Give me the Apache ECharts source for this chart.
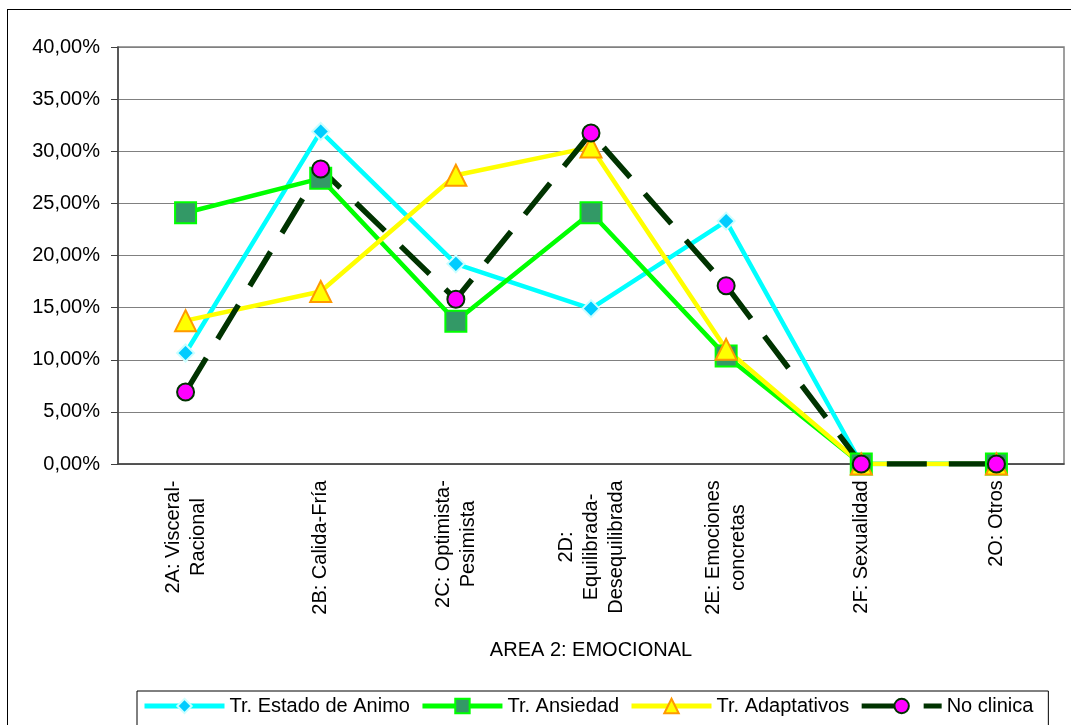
<!DOCTYPE html>
<html lang="es">
  <head>
    <meta charset="UTF-8" />
    <title>Area 2: Emocional</title>
    <script src="https://cdn.jsdelivr.net/npm/echarts@6.0.0/dist/echarts.min.js"></script>
    <style>
      body { margin: 0; background: #fff; }
      #frame { position: absolute; left: 7px; top: 9px; width: 1200px; height: 900px; border: 1.5px solid #000; }
      #main { position: absolute; left: 0; top: 0; width: 1071px; height: 725px; }
    </style>
  </head>

  <body>
    <div id="frame"></div>
    <div id="main"></div>

    <script type="text/javascript">
      // data (percent)
      const categories = [
        "2A: Visceral-\nRacional",
        "2B: Calida-Fría",
        "2C: Optimista-\nPesimista",
        "2D:\nEquilibrada-\nDesequilibrada",
        "2E: Emociones\nconcretas",
        "2F: Sexualidad",
        "2O: Otros",
      ];
      const groupLabel = ["AREA 2: EMOCIONAL"];
      const estadoAnimo = [10.65, 31.9, 19.2, 14.9, 23.3, 0, 0];
      const ansiedad = [24.1, 27.4, 13.7, 24.1, 10.35, 0, 0];
      const adaptativos = [13.75, 16.55, 27.7, 30.4, 11.0, 0, 0];
      const noClinica = [6.9, 28.3, 15.8, 31.75, 17.1, 0, 0];
      const yTicks = { min: 0, max: 40, step: 5 };

      const FONT = "Liberation Sans, Arial, sans-serif";

      // measure each label so its lines are centred on each other
      const ctx = document.createElement("canvas").getContext("2d");
      ctx.font = "20px " + FONT;
      const rich = {};
      categories.forEach((c, i) => {
        const w = Math.max(...c.split("\n").map((l) => ctx.measureText(l).width));
        rich["r" + i] = { width: Math.ceil(w), align: "center", fontSize: 20, lineHeight: 25, fontFamily: FONT, color: "#000" };
      });

      let myChart = echarts.init(document.getElementById("main"));

      let options = {
        animation: false,
        textStyle: { fontFamily: FONT },
        grid: {
          left: 118,
          right: 7,
          top: 47,
          bottom: 261,
          show: true,
          borderColor: "#808080",
          borderWidth: 1.5,
        },
        legend: {
          left: 137,
          top: 691,
          padding: [5, 15, 14, 5],
          itemGap: 10,
          itemWidth: 80,
          itemHeight: 18,
          borderColor: "#000",
          borderWidth: 1,
          lineStyle: { width: 5 },
          textStyle: { fontSize: 20, color: "#000", fontFamily: FONT },
          data: ["Tr. Estado de Animo", "Tr. Ansiedad", "Tr. Adaptativos", "No clinica"],
        },
        xAxis: [
          {
            type: "category",
            position: "bottom",
            data: categories,
            axisLine: { lineStyle: { color: "#404040", width: 1.5 } },
            axisTick: { interval: 0, length: 156, lineStyle: { color: "#404040", width: 1.2 } },
            axisLabel: {
              interval: 0,
              rotate: 90,
              margin: 16,
              formatter: (v, i) =>
                v
                  .split("\n")
                  .map((l) => "{r" + i + "|" + l + "}")
                  .join("\n"),
              rich: rich,
            },
          },
          {
            type: "category",
            position: "bottom",
            data: groupLabel,
            axisLine: { show: false, onZero: false },
            axisTick: { length: 199, lineStyle: { color: "#404040", width: 1.2 } },
            axisLabel: { margin: 176, fontSize: 20, color: "#000", fontFamily: FONT },
          },
        ],
        yAxis: {
          type: "value",
          min: yTicks.min,
          max: yTicks.max,
          interval: yTicks.step,
          axisLine: { show: true, lineStyle: { color: "#404040", width: 1.5 } },
          axisTick: { show: true, length: 7, lineStyle: { color: "#404040" } },
          axisLabel: {
            margin: 18,
            fontSize: 20,
            color: "#000",
            fontFamily: FONT,
            formatter: (v) => v.toFixed(2).replace(".", ",") + "%",
          },
          splitLine: { lineStyle: { color: "#808080", width: 1.2 } },
        },
        series: [
          {
            name: "Tr. Estado de Animo",
            type: "line",
            data: estadoAnimo,
            symbol: "diamond",
            symbolSize: 17,
            lineStyle: { color: "#00FFFF", width: 4.5 },
            itemStyle: { color: "#00CCFF", borderColor: "#CCFFFF", borderWidth: 2 },
          },
          {
            name: "Tr. Ansiedad",
            type: "line",
            data: ansiedad,
            symbol: "rect",
            symbolSize: 21,
            lineStyle: { color: "#00FF00", width: 4.5 },
            itemStyle: { color: "#339966", borderColor: "#00FF00", borderWidth: 2 },
          },
          {
            name: "Tr. Adaptativos",
            type: "line",
            data: adaptativos,
            symbol: "triangle",
            symbolSize: 21,
            lineStyle: { color: "#FFFF00", width: 4.5 },
            itemStyle: { color: "#FFFF00", borderColor: "#FF9900", borderWidth: 2 },
          },
          {
            name: "No clinica",
            type: "line",
            data: noClinica,
            symbol: "circle",
            symbolSize: 17,
            lineStyle: { color: "#003300", width: 5.5, type: [40, 22] },
            itemStyle: { color: "#FF00FF", borderColor: "#003300", borderWidth: 2 },
          },
        ],
      };

      myChart.setOption(options);
    </script>
  </body>
</html>
